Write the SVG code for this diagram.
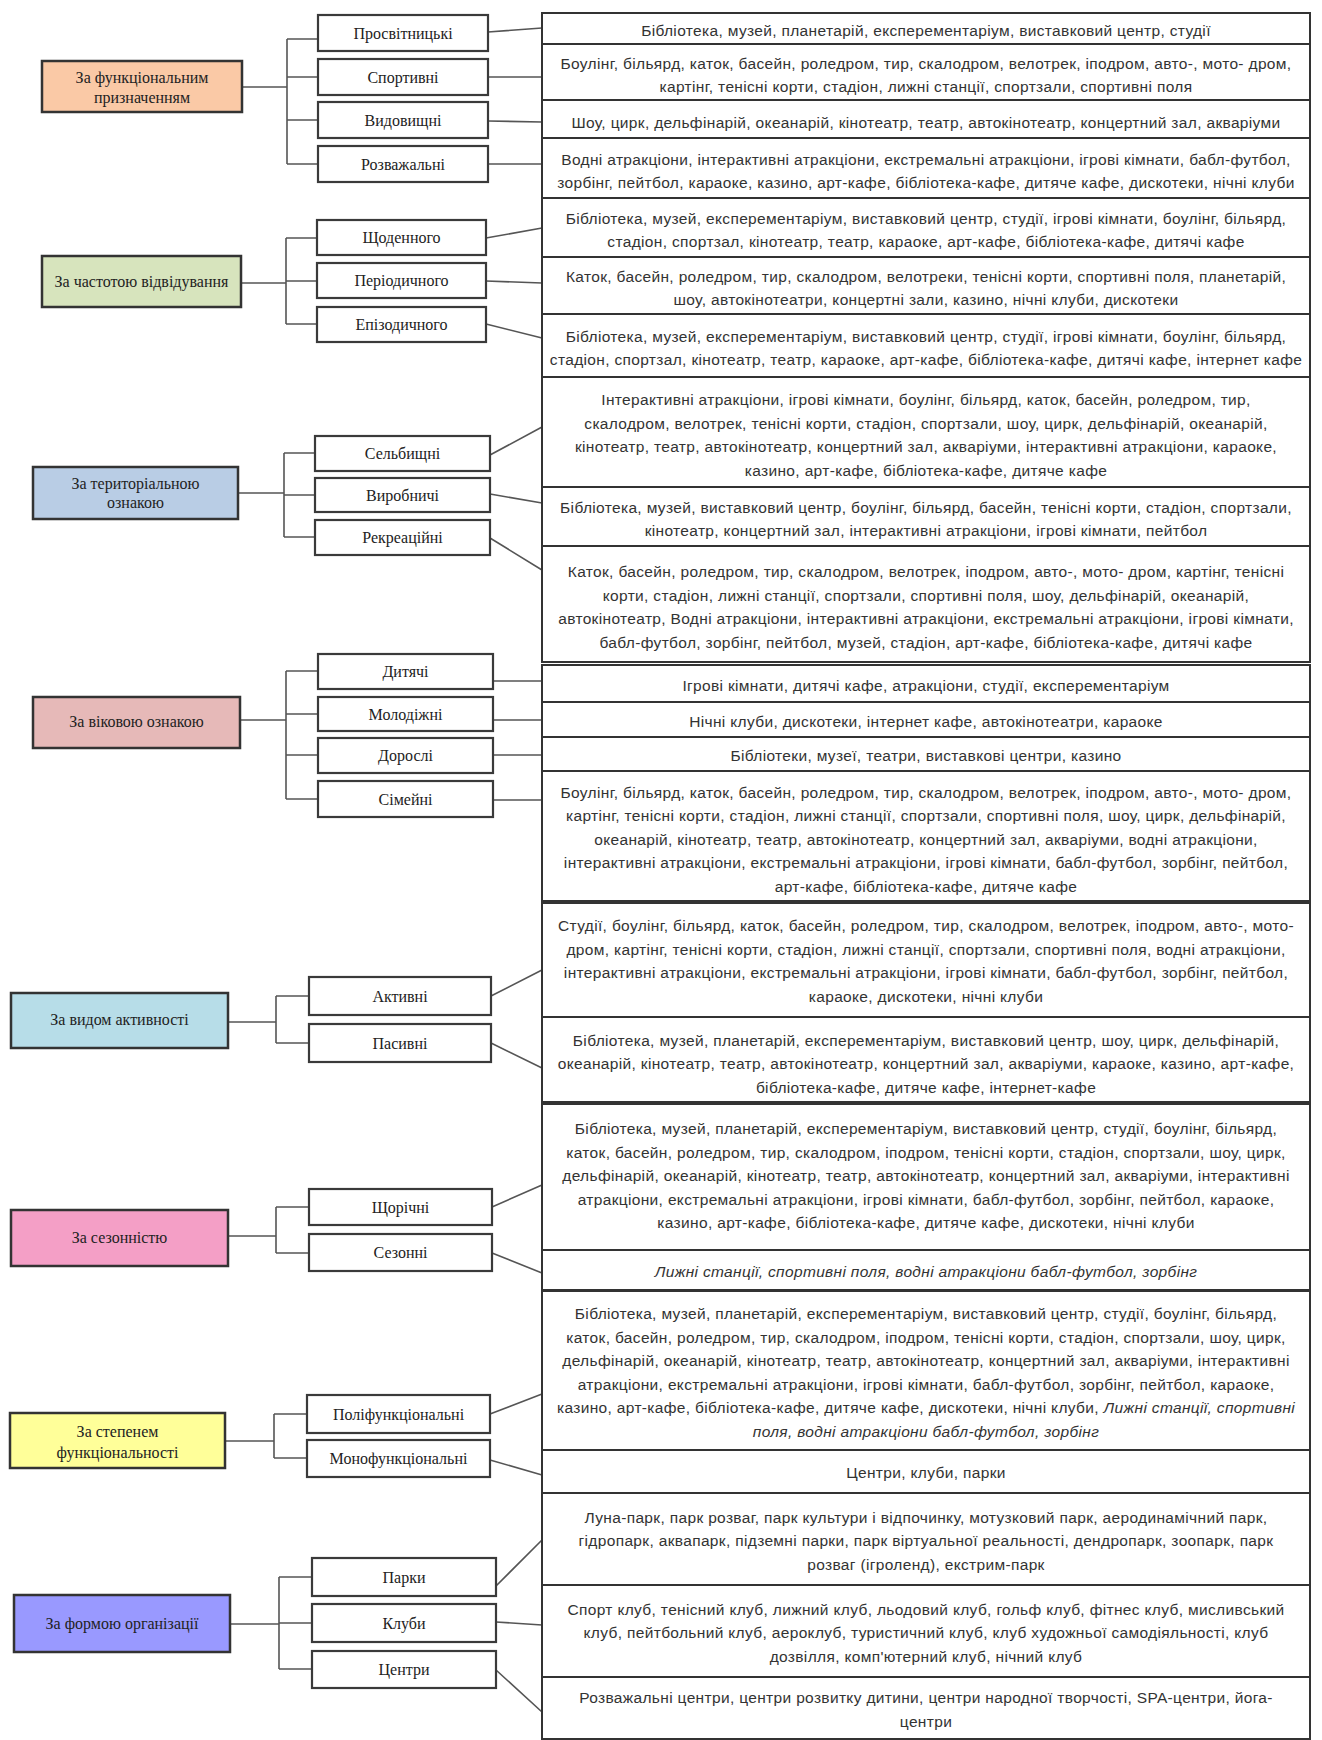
<svg xmlns="http://www.w3.org/2000/svg" width="1322" height="1740" viewBox="0 0 1322 1740">
<style>
.cat{stroke:#333;stroke-width:2.5}
.sub{fill:#fff;stroke:#3a3a3a;stroke-width:2.2}
.row{fill:#fff;stroke:#333;stroke-width:2}
.ct{font-family:"Liberation Serif",serif;font-size:16px;text-anchor:middle;fill:#222}
.rt{font-family:"Liberation Sans",sans-serif;font-size:15.5px;letter-spacing:0.34px;text-anchor:middle;fill:#333}
.con{stroke:#555;stroke-width:1.6;fill:none}
.it{font-style:italic}
</style>
<rect width="1322" height="1740" fill="#fff"/>

<g id="connectors">
<path class="con" d="M242 87H287M287 39V164M287 39H318M287 77H318M287 120H318M287 164H318"/>
<path class="con" d="M488 32L542 28M488 77L542 77M488 121L542 122M488 164L542 164"/>
<path class="con" d="M241 283H286M286 238V324M286 238H317M286 281H317M286 324H317"/>
<path class="con" d="M486 238L542 228M486 281L542 283M486 324L542 338"/>
<path class="con" d="M238 493H284M284 453V537M284 453H315M284 495H315M284 537H315"/>
<path class="con" d="M490 455L542 427M490 494L542 503M490 538L542 570"/>
<path class="con" d="M240 720H286M286 671V799M286 671H318M286 714H318M286 755H318M286 799H318"/>
<path class="con" d="M493 681H542M493 720H542M493 755H542M493 800H542"/>
<path class="con" d="M228 1022H276M276 996V1043M276 996H309M276 1043H309"/>
<path class="con" d="M491 996L542 970M491 1043L542 1068"/>
<path class="con" d="M228 1236H276M276 1207V1253M276 1207H309M276 1253H309"/>
<path class="con" d="M492 1207L542 1185M492 1253L542 1273"/>
<path class="con" d="M225 1441H274M274 1414V1458M274 1414H307M274 1458H307"/>
<path class="con" d="M490 1414L542 1394M490 1460L542 1475"/>
<path class="con" d="M230 1624H279M279 1577V1669M279 1577H312M279 1623H312M279 1669H312"/>
<path class="con" d="M496 1586L542 1540M496 1622L542 1625M496 1670L542 1712"/>
</g>

<g id="cat1"><rect class="cat" x="42" y="61" width="200" height="51" fill="#FAC9A6"/>
<text class="ct" x="142" y="83">За функціональним</text><text class="ct" x="142" y="103">призначенням</text></g>
<g id="cat2"><rect class="cat" x="42" y="256" width="199" height="51" fill="#D7E4BD"/>
<text class="ct" x="141.5" y="287">За частотою відвідування</text></g>
<g id="cat3"><rect class="cat" x="33" y="467" width="205" height="52" fill="#B9CDE5"/>
<text class="ct" x="135.5" y="489">За територіальною</text><text class="ct" x="135.5" y="508">ознакою</text></g>
<g id="cat4"><rect class="cat" x="33" y="697" width="207" height="51" fill="#E6B9B8"/>
<text class="ct" x="136.5" y="727">За віковою ознакою</text></g>
<g id="cat5"><rect class="cat" x="11" y="993" width="217" height="55" fill="#B7DDE8"/>
<text class="ct" x="119.5" y="1025">За видом активності</text></g>
<g id="cat6"><rect class="cat" x="11" y="1210" width="217" height="56" fill="#F49FC6"/>
<text class="ct" x="119.5" y="1243">За сезонністю</text></g>
<g id="cat7"><rect class="cat" x="10" y="1413" width="215" height="55" fill="#FFFF99"/>
<text class="ct" x="117.5" y="1437">За степенем</text><text class="ct" x="117.5" y="1458">функціональності</text></g>
<g id="cat8"><rect class="cat" x="14" y="1595" width="216" height="57" fill="#9999FF"/>
<text class="ct" x="122" y="1629">За формою організації</text></g>

<g id="s1a"><rect class="sub" x="318" y="15" width="170" height="36"/><text class="ct" x="403" y="38.5">Просвітницькі</text></g>
<g id="s1b"><rect class="sub" x="318" y="59" width="170" height="36"/><text class="ct" x="403" y="82.5">Спортивні</text></g>
<g id="s1c"><rect class="sub" x="318" y="102" width="170" height="36"/><text class="ct" x="403" y="125.5">Видовищні</text></g>
<g id="s1d"><rect class="sub" x="318" y="146" width="170" height="36"/><text class="ct" x="403" y="169.5">Розважальні</text></g>

<g id="s2a"><rect class="sub" x="317" y="220" width="169" height="35"/><text class="ct" x="401.5" y="243">Щоденного</text></g>
<g id="s2b"><rect class="sub" x="317" y="263" width="169" height="35"/><text class="ct" x="401.5" y="286">Періодичного</text></g>
<g id="s2c"><rect class="sub" x="317" y="307" width="169" height="35"/><text class="ct" x="401.5" y="330">Епізодичного</text></g>

<g id="s3a"><rect class="sub" x="315" y="436" width="175" height="35"/><text class="ct" x="402.5" y="459">Сельбищні</text></g>
<g id="s3b"><rect class="sub" x="315" y="478" width="175" height="34"/><text class="ct" x="402.5" y="500.5">Виробничі</text></g>
<g id="s3c"><rect class="sub" x="315" y="520" width="175" height="35"/><text class="ct" x="402.5" y="543">Рекреаційні</text></g>

<g id="s4a"><rect class="sub" x="318" y="654" width="175" height="35"/><text class="ct" x="405.5" y="677">Дитячі</text></g>
<g id="s4b"><rect class="sub" x="318" y="697" width="175" height="34"/><text class="ct" x="405.5" y="719.5">Молодіжні</text></g>
<g id="s4c"><rect class="sub" x="318" y="738" width="175" height="35"/><text class="ct" x="405.5" y="761">Дорослі</text></g>
<g id="s4d"><rect class="sub" x="318" y="781" width="175" height="36"/><text class="ct" x="405.5" y="804.5">Сімейні</text></g>

<g id="s5a"><rect class="sub" x="309" y="977" width="182" height="38"/><text class="ct" x="400" y="1001.5">Активні</text></g>
<g id="s5b"><rect class="sub" x="309" y="1024" width="182" height="38"/><text class="ct" x="400" y="1048.5">Пасивні</text></g>

<g id="s6a"><rect class="sub" x="309" y="1189" width="183" height="36"/><text class="ct" x="400.5" y="1212.5">Щорічні</text></g>
<g id="s6b"><rect class="sub" x="309" y="1234" width="183" height="37"/><text class="ct" x="400.5" y="1258">Сезонні</text></g>

<g id="s7a"><rect class="sub" x="307" y="1395" width="183" height="38"/><text class="ct" x="398.5" y="1419.5">Поліфункціональні</text></g>
<g id="s7b"><rect class="sub" x="307" y="1440" width="183" height="37"/><text class="ct" x="398.5" y="1464">Монофункціональні</text></g>

<g id="s8a"><rect class="sub" x="312" y="1558" width="184" height="38"/><text class="ct" x="404" y="1582.5">Парки</text></g>
<g id="s8b"><rect class="sub" x="312" y="1604" width="184" height="38"/><text class="ct" x="404" y="1628.5">Клуби</text></g>
<g id="s8c"><rect class="sub" x="312" y="1651" width="184" height="37"/><text class="ct" x="404" y="1675">Центри</text></g>

<g id="r1"><rect class="row" x="542" y="13" width="768" height="31"/>
<text class="rt" x="926" y="36">Бібліотека, музей, планетарій, експерементаріум, виставковий центр, студії</text></g>
<g id="r2"><rect class="row" x="542" y="44" width="768" height="56"/>
<text class="rt" x="926" y="69">Боулінг, більярд, каток, басейн, роледром, тир, скалодром, велотрек, іподром, авто-, мото- дром,</text>
<text class="rt" x="926" y="92">картінг, тенісні корти, стадіон, лижні станції, спортзали, спортивні поля</text></g>
<g id="r3"><rect class="row" x="542" y="100" width="768" height="38"/>
<text class="rt" x="926" y="127.5">Шоу, цирк, дельфінарій, океанарій, кінотеатр, театр, автокінотеатр, концертний зал, акваріуми</text></g>
<g id="r4"><rect class="row" x="542" y="138" width="768" height="60"/>
<text class="rt" x="926" y="164.5">Водні атракціони, інтерактивні атракціони, екстремальні атракціони, ігрові кімнати, бабл-футбол,</text>
<text class="rt" x="926" y="187.5">зорбінг, пейтбол, караоке, казино, арт-кафе, бібліотека-кафе, дитяче кафе, дискотеки, нічні клуби</text></g>

<g id="r5"><rect class="row" x="542" y="198" width="768" height="59"/>
<text class="rt" x="926" y="224">Бібліотека, музей, експерементаріум, виставковий центр, студії, ігрові кімнати, боулінг, більярд,</text>
<text class="rt" x="926" y="247.3">стадіон, спортзал, кінотеатр, театр, караоке, арт-кафе, бібліотека-кафе, дитячі кафе</text></g>
<g id="r6"><rect class="row" x="542" y="257" width="768" height="57"/>
<text class="rt" x="926" y="281.8">Каток, басейн, роледром, тир, скалодром, велотреки, тенісні корти, спортивні поля, планетарій,</text>
<text class="rt" x="926" y="305.3">шоу, автокінотеатри, концертні зали, казино, нічні клуби, дискотеки</text></g>
<g id="r7"><rect class="row" x="542" y="314" width="768" height="63"/>
<text class="rt" x="926" y="341.8">Бібліотека, музей, експерементаріум, виставковий центр, студії, ігрові кімнати, боулінг, більярд,</text>
<text class="rt" x="926" y="365.3">стадіон, спортзал, кінотеатр, театр, караоке, арт-кафе, бібліотека-кафе, дитячі кафе, інтернет кафе</text></g>

<g id="r8"><rect class="row" x="542" y="377" width="768" height="110"/>
<text class="rt" x="926" y="405">Інтерактивні атракціони, ігрові кімнати, боулінг, більярд, каток, басейн, роледром, тир,</text>
<text class="rt" x="926" y="428.5">скалодром, велотрек, тенісні корти, стадіон, спортзали, шоу, цирк, дельфінарій, океанарій,</text>
<text class="rt" x="926" y="452">кінотеатр, театр, автокінотеатр, концертний зал, акваріуми, інтерактивні атракціони, караоке,</text>
<text class="rt" x="926" y="475.5">казино, арт-кафе, бібліотека-кафе, дитяче кафе</text></g>
<g id="r9"><rect class="row" x="542" y="487" width="768" height="59"/>
<text class="rt" x="926" y="512.8">Бібліотека, музей, виставковий центр, боулінг, більярд, басейн, тенісні корти, стадіон, спортзали,</text>
<text class="rt" x="926" y="536.3">кінотеатр, концертний зал, інтерактивні атракціони, ігрові кімнати, пейтбол</text></g>
<g id="r10"><rect class="row" x="542" y="546" width="768" height="116"/>
<text class="rt" x="926" y="577">Каток, басейн, роледром, тир, скалодром, велотрек, іподром, авто-, мото- дром, картінг, тенісні</text>
<text class="rt" x="926" y="600.5">корти, стадіон, лижні станції, спортзали, спортивні поля, шоу, дельфінарій, океанарій,</text>
<text class="rt" x="926" y="624">автокінотеатр, Водні атракціони, інтерактивні атракціони, екстремальні атракціони, ігрові кімнати,</text>
<text class="rt" x="926" y="647.5">бабл-футбол, зорбінг, пейтбол, музей, стадіон, арт-кафе, бібліотека-кафе, дитячі кафе</text></g>

<g id="r11"><rect class="row" x="542" y="665" width="768" height="37"/>
<text class="rt" x="926" y="690.5">Ігрові кімнати, дитячі кафе, атракціони, студії, експерементаріум</text></g>
<g id="r12"><rect class="row" x="542" y="702" width="768" height="35"/>
<text class="rt" x="926" y="726.5">Нічні клуби, дискотеки, інтернет кафе, автокінотеатри, караоке</text></g>
<g id="r13"><rect class="row" x="542" y="737" width="768" height="34"/>
<text class="rt" x="926" y="761">Бібліотеки, музеї, театри, виставкові центри, казино</text></g>
<g id="r14"><rect class="row" x="542" y="771" width="768" height="130"/>
<text class="rt" x="926" y="797.5">Боулінг, більярд, каток, басейн, роледром, тир, скалодром, велотрек, іподром, авто-, мото- дром,</text>
<text class="rt" x="926" y="821">картінг, тенісні корти, стадіон, лижні станції, спортзали, спортивні поля, шоу, цирк, дельфінарій,</text>
<text class="rt" x="926" y="844.5">океанарій, кінотеатр, театр, автокінотеатр, концертний зал, акваріуми, водні атракціони,</text>
<text class="rt" x="926" y="868">інтерактивні атракціони, екстремальні атракціони, ігрові кімнати, бабл-футбол, зорбінг, пейтбол,</text>
<text class="rt" x="926" y="891.5">арт-кафе, бібліотека-кафе, дитяче кафе</text></g>

<g id="r15"><rect class="row" x="542" y="903" width="768" height="114"/>
<text class="rt" x="926" y="931">Студії, боулінг, більярд, каток, басейн, роледром, тир, скалодром, велотрек, іподром, авто-, мото-</text>
<text class="rt" x="926" y="954.5">дром, картінг, тенісні корти, стадіон, лижні станції, спортзали, спортивні поля, водні атракціони,</text>
<text class="rt" x="926" y="978">інтерактивні атракціони, екстремальні атракціони, ігрові кімнати, бабл-футбол, зорбінг, пейтбол,</text>
<text class="rt" x="926" y="1001.5">караоке, дискотеки, нічні клуби</text></g>
<g id="r16"><rect class="row" x="542" y="1017" width="768" height="85"/>
<text class="rt" x="926" y="1045.5">Бібліотека, музей, планетарій, експерементаріум, виставковий центр, шоу, цирк, дельфінарій,</text>
<text class="rt" x="926" y="1069">океанарій, кінотеатр, театр, автокінотеатр, концертний зал, акваріуми, караоке, казино, арт-кафе,</text>
<text class="rt" x="926" y="1092.5">бібліотека-кафе, дитяче кафе, інтернет-кафе</text></g>

<g id="r17"><rect class="row" x="542" y="1104" width="768" height="146"/>
<text class="rt" x="926" y="1134">Бібліотека, музей, планетарій, експерементаріум, виставковий центр, студії, боулінг, більярд,</text>
<text class="rt" x="926" y="1157.5">каток, басейн, роледром, тир, скалодром, іподром, тенісні корти, стадіон, спортзали, шоу, цирк,</text>
<text class="rt" x="926" y="1181">дельфінарій, океанарій, кінотеатр, театр, автокінотеатр, концертний зал, акваріуми, інтерактивні</text>
<text class="rt" x="926" y="1204.5">атракціони, екстремальні атракціони, ігрові кімнати, бабл-футбол, зорбінг, пейтбол, караоке,</text>
<text class="rt" x="926" y="1228">казино, арт-кафе, бібліотека-кафе, дитяче кафе, дискотеки, нічні клуби</text></g>
<g id="r18"><rect class="row" x="542" y="1250" width="768" height="40"/>
<text class="rt it" x="926" y="1277">Лижні станції, спортивні поля, водні атракціони бабл-футбол, зорбінг</text></g>

<g id="r19"><rect class="row" x="542" y="1291" width="768" height="159"/>
<text class="rt" x="926" y="1319">Бібліотека, музей, планетарій, експерементаріум, виставковий центр, студії, боулінг, більярд,</text>
<text class="rt" x="926" y="1342.5">каток, басейн, роледром, тир, скалодром, іподром, тенісні корти, стадіон, спортзали, шоу, цирк,</text>
<text class="rt" x="926" y="1366">дельфінарій, океанарій, кінотеатр, театр, автокінотеатр, концертний зал, акваріуми, інтерактивні</text>
<text class="rt" x="926" y="1389.5">атракціони, екстремальні атракціони, ігрові кімнати, бабл-футбол, зорбінг, пейтбол, караоке,</text>
<text class="rt" x="926" y="1413">казино, арт-кафе, бібліотека-кафе, дитяче кафе, дискотеки, нічні клуби, <tspan class="it">Лижні станції, спортивні</tspan></text>
<text class="rt it" x="926" y="1436.5">поля, водні атракціони бабл-футбол, зорбінг</text></g>
<g id="r20"><rect class="row" x="542" y="1450" width="768" height="43"/>
<text class="rt" x="926" y="1478">Центри, клуби, парки</text></g>

<g id="r21"><rect class="row" x="542" y="1493" width="768" height="92"/>
<text class="rt" x="926" y="1522.5">Луна-парк, парк розваг, парк культури і відпочинку, мотузковий парк, аеродинамічний парк,</text>
<text class="rt" x="926" y="1546">гідропарк, аквапарк, підземні парки, парк віртуальної реальності, дендропарк, зоопарк, парк</text>
<text class="rt" x="926" y="1569.5">розваг (ігроленд), екстрим-парк</text></g>
<g id="r22"><rect class="row" x="542" y="1585" width="768" height="92"/>
<text class="rt" x="926" y="1614.5">Спорт клуб, тенісний клуб, лижний клуб, льодовий клуб, гольф клуб, фітнес клуб, мисливський</text>
<text class="rt" x="926" y="1638">клуб, пейтбольний клуб, аероклуб, туристичний клуб, клуб художньої самодіяльності, клуб</text>
<text class="rt" x="926" y="1661.5">дозвілля, комп'ютерний клуб, нічний клуб</text></g>
<g id="r23"><rect class="row" x="542" y="1677" width="768" height="62"/>
<text class="rt" x="926" y="1703">Розважальні центри, центри розвитку дитини, центри народної творчості, SPA-центри, йога-</text>
<text class="rt" x="926" y="1726.5">центри</text></g>
</svg>
